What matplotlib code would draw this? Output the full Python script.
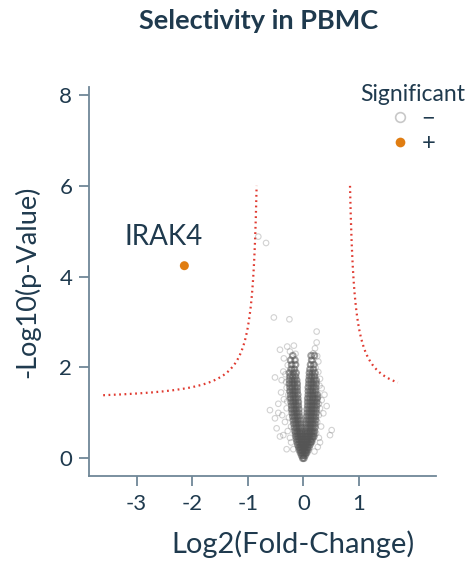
import numpy as np
import matplotlib
matplotlib.use("Agg")
import matplotlib.pyplot as plt
from matplotlib.lines import Line2D

plt.rcParams["font.family"] = ["Lato", "DejaVu Sans"]
plt.rcParams["axes.unicode_minus"] = False

NAVY = "#1f3a4e"
AXIS = "#6f8797"

# dense V-shaped core: (y level, log2 fold-change values read along that row)
core_rows = [
    (0.00, [-0.01, 0.01]),
    (0.06, [-0.03, 0.0, 0.03]),
    (0.12, [-0.05, -0.02, 0.01, 0.04, 0.06]),
    (0.18, [-0.07, -0.04, -0.01, 0.02, 0.05, 0.08]),
    (0.24, [-0.08, -0.05, -0.02, 0.01, 0.04, 0.07, 0.10]),
    (0.30, [-0.10, -0.06, -0.03, 0.01, 0.05, 0.08, 0.12]),
    (0.36, [-0.11, -0.07, -0.03, 0.01, 0.05, 0.09, 0.13, 0.15]),
    (0.42, [-0.12, -0.08, -0.04, 0.0, 0.04, 0.08, 0.12, 0.16]),
    (0.48, [-0.13, -0.09, -0.05, -0.01, 0.04, 0.08, 0.12, 0.16, 0.19]),
    (0.54, [-0.14, -0.10, -0.06, -0.02, 0.03, 0.07, 0.11, 0.15, 0.19]),
    (0.60, [-0.15, -0.11, -0.07, -0.03, 0.04, 0.08, 0.12, 0.16, 0.20]),
    (0.68, [-0.16, -0.12, -0.08, -0.04, 0.05, 0.09, 0.13, 0.17, 0.21]),
    (0.76, [-0.17, -0.13, -0.09, -0.05, 0.05, 0.09, 0.13, 0.17, 0.21]),
    (0.84, [-0.18, -0.14, -0.10, -0.06, 0.06, 0.10, 0.14, 0.18, 0.22]),
    (0.92, [-0.19, -0.15, -0.11, -0.07, 0.06, 0.10, 0.14, 0.18, 0.22]),
    (1.00, [-0.20, -0.16, -0.12, -0.08, 0.07, 0.11, 0.15, 0.19, 0.23]),
    (1.08, [-0.21, -0.17, -0.13, -0.08, 0.07, 0.11, 0.15, 0.19, 0.23]),
    (1.16, [-0.21, -0.17, -0.13, -0.09, 0.08, 0.12, 0.16, 0.20, 0.24]),
    (1.24, [-0.22, -0.18, -0.14, -0.09, 0.08, 0.12, 0.16, 0.20, 0.24]),
    (1.32, [-0.23, -0.18, -0.14, -0.10, 0.08, 0.12, 0.17, 0.21, 0.25]),
    (1.40, [-0.23, -0.19, -0.15, -0.10, 0.09, 0.13, 0.17, 0.21, 0.25]),
    (1.48, [-0.24, -0.19, -0.15, -0.11, 0.09, 0.13, 0.17, 0.22]),
    (1.56, [-0.24, -0.20, -0.15, -0.11, 0.09, 0.14, 0.18, 0.22]),
    (1.64, [-0.25, -0.20, -0.16, -0.11, 0.10, 0.14, 0.18, 0.23]),
    (1.72, [-0.25, -0.20, -0.16, -0.12, 0.10, 0.14, 0.19, 0.23]),
    (1.80, [-0.24, -0.19, -0.14, 0.11, 0.15, 0.20]),
    (1.88, [-0.25, -0.18, -0.13, 0.11, 0.16, 0.21]),
    (1.96, [-0.22, -0.16, 0.12, 0.18]),
    (2.06, [-0.21, -0.14, 0.13, 0.19]),
    (2.16, [-0.23, -0.15, 0.15]),
    (2.26, [-0.19, 0.14, 0.20]),
]

# sparse non-significant points around the core
halo = [
    (-0.30, 0.20), (0.26, 0.25), (-0.22, 0.35), (0.28, 0.45), (-0.42, 0.48),
    (-0.36, 0.51), (-0.48, 0.66), (0.48, 0.51), (0.51, 0.62), (-0.28, 0.60),
    (0.32, 0.70), (-0.33, 0.80), (0.36, 0.99), (-0.51, 0.88), (-0.60, 1.06),
    (-0.38, 0.95), (-0.30, 1.10), (0.33, 1.28), (0.30, 1.10), (-0.45, 1.20),
    (-0.35, 1.30), (0.38, 1.40), (0.33, 1.54), (-0.40, 1.45), (-0.30, 1.55),
    (-0.39, 1.72), (-0.36, 1.91), (-0.51, 1.78), (-0.32, 1.85), (0.30, 1.75),
    (0.27, 1.90), (0.17, 2.13), (0.27, 2.13), (-0.28, 2.05), (-0.29, 2.46),
    (-0.17, 2.48), (-0.24, 2.35), (-0.42, 2.39), (0.18, 2.31), (0.21, 2.42),
    (0.24, 2.55), (0.24, 2.79), (-0.53, 3.10), (-0.25, 3.06), (-0.67, 4.74),
    (-0.81, 4.88), (-0.45, 1.00), (0.42, 1.15), (-0.26, 0.90), (0.28, 0.95),
    (-0.20, 1.95), (0.25, 2.25), (-0.35, 2.20), (0.22, 2.00), (-0.14, 2.30),
    (0.30, 0.35), (-0.18, 0.20), (0.20, 0.15), (-0.27, 1.40), (0.29, 1.60),
    (-0.22, 0.70), (0.25, 0.80), (-0.29, 1.25), (0.27, 1.35), (-0.24, 0.45),
    (0.23, 0.55), (-0.31, 1.68), (0.28, 1.20),
]

hit_name = ["IRAK4"]
hit_x = [-2.14]
hit_y = [4.24]

# significance threshold curve: y = base + scale / (|x| - x0)
thr_base, thr_scale, thr_x0 = 1.25, 0.394, 0.757
thr_left = (-3.6, -0.84)
thr_right = (0.84, 1.70)

core_x = [x for y, xs in core_rows for x in xs]
core_y = [y for y, xs in core_rows for x in xs]
halo_x = [p[0] for p in halo]
halo_y = [p[1] for p in halo]

fig = plt.figure(figsize=(4.71, 5.63), dpi=100)
ax = fig.add_axes([0.189, 0.1545, 0.7367, 0.6915])

ax.scatter(halo_x, halo_y, s=16, facecolors="none", edgecolors="#6a6a6a",
           linewidths=0.8, alpha=0.3, zorder=2)
ax.scatter(core_x, core_y, s=16, facecolors="none", edgecolors="#555555",
           linewidths=1.5, alpha=0.55, zorder=2)
ax.scatter(hit_x, hit_y, s=42, color="#e07d12", edgecolors="none", zorder=3)
for n, x, y in zip(hit_name, hit_x, hit_y):
    ax.text(x - 0.37, y + 0.63, n, fontsize=20, color=NAVY,
            ha="center", va="center")

for a, b in (thr_left, thr_right):
    xs = np.linspace(a, b, 200)
    ax.plot(xs, thr_base + thr_scale / (np.abs(xs) - thr_x0),
            color="#e03a30", lw=1.6, ls=(0, (0.8, 1.6)), zorder=1)

ax.set_xlim(-3.855, 2.387)
ax.set_ylim(-0.39, 8.18)
ax.set_xticks([-3, -2, -1, 0, 1])
ax.set_yticks([0, 2, 4, 6, 8])

for s in ("top", "right"):
    ax.spines[s].set_visible(False)
for s in ("left", "bottom"):
    ax.spines[s].set_color(AXIS)
    ax.spines[s].set_linewidth(1.3)
ax.tick_params(colors=AXIS, labelcolor=NAVY, labelsize=16, length=7,
               width=1.3)
ax.tick_params(axis="x", pad=6)
ax.tick_params(axis="y", pad=5)

ax.set_xlabel("Log2(Fold-Change)", fontsize=21, color=NAVY)
ax.xaxis.set_label_coords(0.588, -0.14)
ax.set_ylabel("-Log10(p-Value)", fontsize=19.5, color=NAVY, labelpad=14)

fig.text(0.55, 0.962, "Selectivity in PBMC", fontsize=19.5,
         fontweight="bold", color=NAVY, ha="center", va="center")

handles = [
    Line2D([], [], ls="none", marker="o", markersize=7, markerfacecolor="none",
           markeredgecolor="#c8c8c8", markeredgewidth=1.2, label="\u2212"),
    Line2D([], [], ls="none", marker="o", markersize=7, color="#e07d12",
           markeredgecolor="none", label="+"),
]
leg = fig.legend(handles=handles, title="Significant", loc="upper center",
                 bbox_to_anchor=(0.877, 0.88), frameon=False, fontsize=17,
                 title_fontsize=16.5, handlelength=0.8, handletextpad=0.5,
                 labelspacing=0.15, borderpad=0.2)
leg.get_title().set_color(NAVY)
for t in leg.get_texts():
    t.set_color(NAVY)

fig.savefig("out.png", dpi=100)
